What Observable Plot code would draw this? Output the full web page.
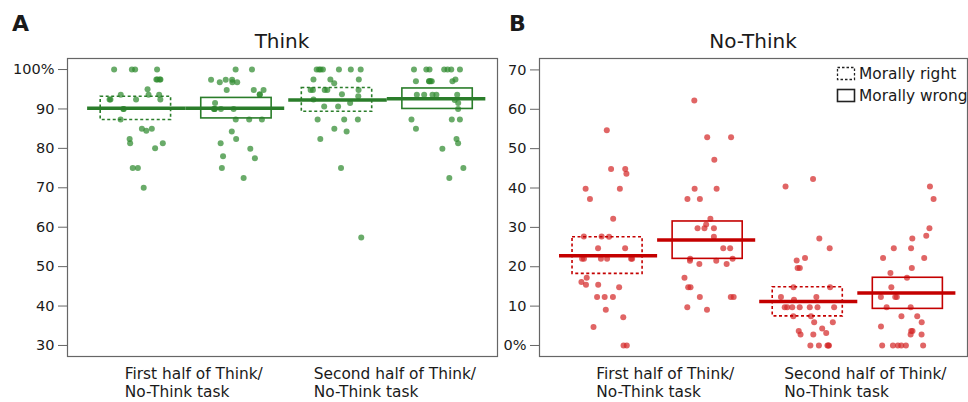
<!DOCTYPE html>
<html><head><meta charset="utf-8">
<script src="https://cdn.jsdelivr.net/npm/d3@7"></script>
<script src="https://cdn.jsdelivr.net/npm/@observablehq/plot@0.6"></script>
<style>
html,body{margin:0;padding:0;background:#fff;overflow:hidden;}
#fig{position:relative;width:968px;height:402px;overflow:hidden;font-family:"DejaVu Sans",sans-serif;color:#1a1a1a;}
#fig > svg{position:absolute;top:0;}
</style></head><body><div id="fig"></div>
<script>
// ---- categories & labels ----
const categories = ["First half of Think/\nNo-Think task", "Second half of Think/\nNo-Think task"];
const conditions = ["Morally right", "Morally wrong"];
const panelTitles = ["Think", "No-Think"];
const panelLetters = ["A", "B"];

// ---- Think panel (% recalled) ----
const thinkFirstRight = [100,100,100,100,97.5,97.5,97.5,97.5,95,93.6,93.6,93.6,92.4,92.4,92.4,92.4,90,90,87.3,85,85,84.5,81.3,81.3,82.4,80,75,75,70];
const thinkFirstWrong = [100,100,97.4,97.4,96.8,96.8,97.4,96.8,94.8,94.8,93.6,94.8,93.7,91.5,90,90,90,90,90,87.3,87.3,87.3,84.3,82.4,81.3,79.9,78,77.5,75,72.5];
const thinkSecondRight = [100,100,100,100,100,100,100,97.5,97.5,97.5,96.5,94.8,94.8,94.8,94.8,94.8,93.7,93.2,92.4,91.5,90.6,90.6,87.3,87.3,87.3,84.3,85,82.4,75,57.4];
const thinkSecondWrong = [100,100,100,100,100,100,100,97,97,97,97,97,97,97.5,93.6,93.6,93.6,93.6,93.6,91.5,92.3,90,87.3,87.3,87.3,85,82.4,81.3,79.9,75,72.5];
const thinkMeans = [90.2, 90.2, 92.3, 92.6];
const thinkLo = [87.2, 87.6, 89.3, 90.0];
const thinkHi = [93.1, 92.8, 95.3, 95.2];
const thinkTicks = [30,40,50,60,70,80,90,100];
const thinkTickLabels = ["30","40","50","60","70","80","90","100%"];

// ---- No-Think panel (% recalled) ----
const noThinkFirstRight = [54.7,43.6,44.8,44.8,39.8,39.8,37.2,32.2,27.7,27.7,27.6,24.7,24.7,22,22,22,22,22,22,17.2,15.4,16.1,15.4,14.8,12.3,12.3,12.3,9.1,7.2,4.7,0,0];
const noThinkFirstWrong = [62.2,52.9,52.9,47.2,39.8,39.8,37.2,37.2,32.2,30.7,29.8,29.8,29.8,27.6,24.7,24.7,22,22,21.5,21.5,20.7,20.7,17.2,14.8,14.8,12.3,12.3,12.3,9.7,9.1];
const noThinkSecondRight = [42.3,40.4,27.2,24.7,21.6,22.2,19.7,19.7,14.8,14.8,12.3,12.3,11.6,9.7,9.7,9.7,9.7,9.7,9.7,9.7,7.4,7.4,5.9,5.9,4.3,3.2,2.8,3.7,2.8,0,0,0,0,0];
const noThinkSecondWrong = [40.4,37.2,29.8,27.9,27.2,24.7,24.7,22.2,22.2,19.7,18.4,17.2,14.8,12.3,12.3,12.3,9.7,9.7,7.4,7.4,5.9,4.8,3.7,2.8,2.8,3.7,0,0,0,0,0,0];
const noThinkMeans = [22.8, 26.8, 11.2, 13.3];
const noThinkLo = [18.2, 22.0, 7.4, 9.3];
const noThinkHi = [27.5, 31.5, 14.8, 17.2];
const noThinkTicks = [0,10,20,30,40,50,60,70];
const noThinkTickLabels = ["0%","10","20","30","40","50","60","70"];

// ---- layout helpers ----
const groupPos = [0, 1];
const subPos = [-0.25, 0.25, 0.75, 1.25]; // first-right, first-wrong, second-right, second-wrong

function panel(opts) {
  const {series, means, lo, hi, domain, ticks, tickLabels, lineColor, dotColor, width, marginLeft, marginRight, seed} = opts;
  const jit = d3.randomUniform.source(d3.randomLcg(seed))(-0.135, 0.135);
  const rows = [];
  series.forEach((arr, i) => arr.forEach(v => rows.push({x: subPos[i] + jit(), v})));
  const summary = means.map((m, i) => ({pos: subPos[i], mean: m, lo: lo[i], hi: hi[i], dashed: i % 2 === 0}));
  return Plot.plot({
    width, height: 402,
    marginTop: 58, marginBottom: 46, marginLeft, marginRight,
    x: {domain: [-0.59, 1.548]},
    y: {domain},
    style: {fontFamily: "DejaVu Sans, sans-serif", fontSize: "14px", color: "#1a1a1a", background: "transparent"},
    marks: [
      Plot.axisY({ticks, tickFormat: d => tickLabels[ticks.indexOf(d)], tickSize: 9, tickPadding: 4, stroke: "#666", label: null, fontSize: 14.5}),
      Plot.axisX({ticks: groupPos, tickFormat: d => categories[groupPos.indexOf(d)], tickSize: 0, tickPadding: 9, label: null, fontSize: 15.4, textAnchor: "start", lineHeight: 1.19}),
      Plot.dot(rows, {x: "x", y: "v", r: 3, fill: dotColor, fillOpacity: 0.72, stroke: null}),
      Plot.rect(summary.filter(d => d.dashed), {x1: d => d.pos - 0.175, x2: d => d.pos + 0.175, y1: "lo", y2: "hi", fill: "none", stroke: lineColor, strokeWidth: 1.6, strokeDasharray: "3,2.5"}),
      Plot.rect(summary.filter(d => !d.dashed), {x1: d => d.pos - 0.175, x2: d => d.pos + 0.175, y1: "lo", y2: "hi", fill: "none", stroke: lineColor, strokeWidth: 1.6}),
      Plot.ruleY(summary, {y: "mean", x1: d => d.dashed ? d.pos - 0.24 : d.pos - 0.25, x2: d => d.dashed ? d.pos + 0.25 : d.pos + 0.24, stroke: lineColor, strokeWidth: 3.5}),
      Plot.frame({stroke: "#666", strokeWidth: 1.2})
    ]
  });
}

const fig = document.getElementById("fig");
const left = panel({
  series: [thinkFirstRight, thinkFirstWrong, thinkSecondRight, thinkSecondWrong],
  means: thinkMeans, lo: thinkLo, hi: thinkHi,
  domain: [27.2, 102.8], ticks: thinkTicks, tickLabels: thinkTickLabels,
  lineColor: "#2a7d2a", dotColor: "#2f8a2f", width: 500, marginLeft: 67, marginRight: 3, seed: 0.17
});
left.style.left = "0px";
const right = panel({
  series: [noThinkFirstRight, noThinkFirstWrong, noThinkSecondRight, noThinkSecondWrong],
  means: noThinkMeans, lo: noThinkLo, hi: noThinkHi,
  domain: [-2.8, 72.9], ticks: noThinkTicks, tickLabels: noThinkTickLabels,
  lineColor: "#c40000", dotColor: "#d42a2a", width: 468, marginLeft: 39, marginRight: 1, seed: 0.53
});
right.style.left = "500px";
fig.appendChild(left);
fig.appendChild(right);

// center the left-aligned multi-line category labels on their group
for (const svg of [left, right]) {
  svg.querySelectorAll('g[aria-label="x-axis tick label"] text').forEach(t => {
    const w = t.getBBox().width;
    t.setAttribute("transform", (t.getAttribute("transform") || "") + ` translate(${8 - w / 2},0)`);
  });
}

// overlay: panel letters, titles, legend
const ov = d3.select(fig).append("svg").attr("width", 968).attr("height", 402)
  .style("left", "0px").style("font-family", "DejaVu Sans, sans-serif").attr("fill", "#1a1a1a");
ov.append("text").attr("x", 12).attr("y", 31).attr("font-size", 22).attr("font-weight", "bold").text(panelLetters[0]);
ov.append("text").attr("x", 509).attr("y", 31).attr("font-size", 22).attr("font-weight", "bold").text(panelLetters[1]);
ov.append("text").attr("x", 282).attr("y", 48).attr("font-size", 20).attr("text-anchor", "middle").text(panelTitles[0]);
ov.append("text").attr("x", 753).attr("y", 48).attr("font-size", 20).attr("text-anchor", "middle").text(panelTitles[1]);
ov.append("rect").attr("x", 837.5).attr("y", 67.5).attr("width", 17).attr("height", 12).attr("fill", "none").attr("stroke", "#222").attr("stroke-width", 1.3).attr("stroke-dasharray", "2.5,2");
ov.append("text").attr("x", 859).attr("y", 78.5).attr("font-size", 15.4).text(conditions[0]);
ov.append("rect").attr("x", 837.5).attr("y", 89.5).attr("width", 17).attr("height", 12).attr("fill", "none").attr("stroke", "#222").attr("stroke-width", 1.6);
ov.append("text").attr("x", 859).attr("y", 100.5).attr("font-size", 15.4).text(conditions[1]);
</script></body></html>
